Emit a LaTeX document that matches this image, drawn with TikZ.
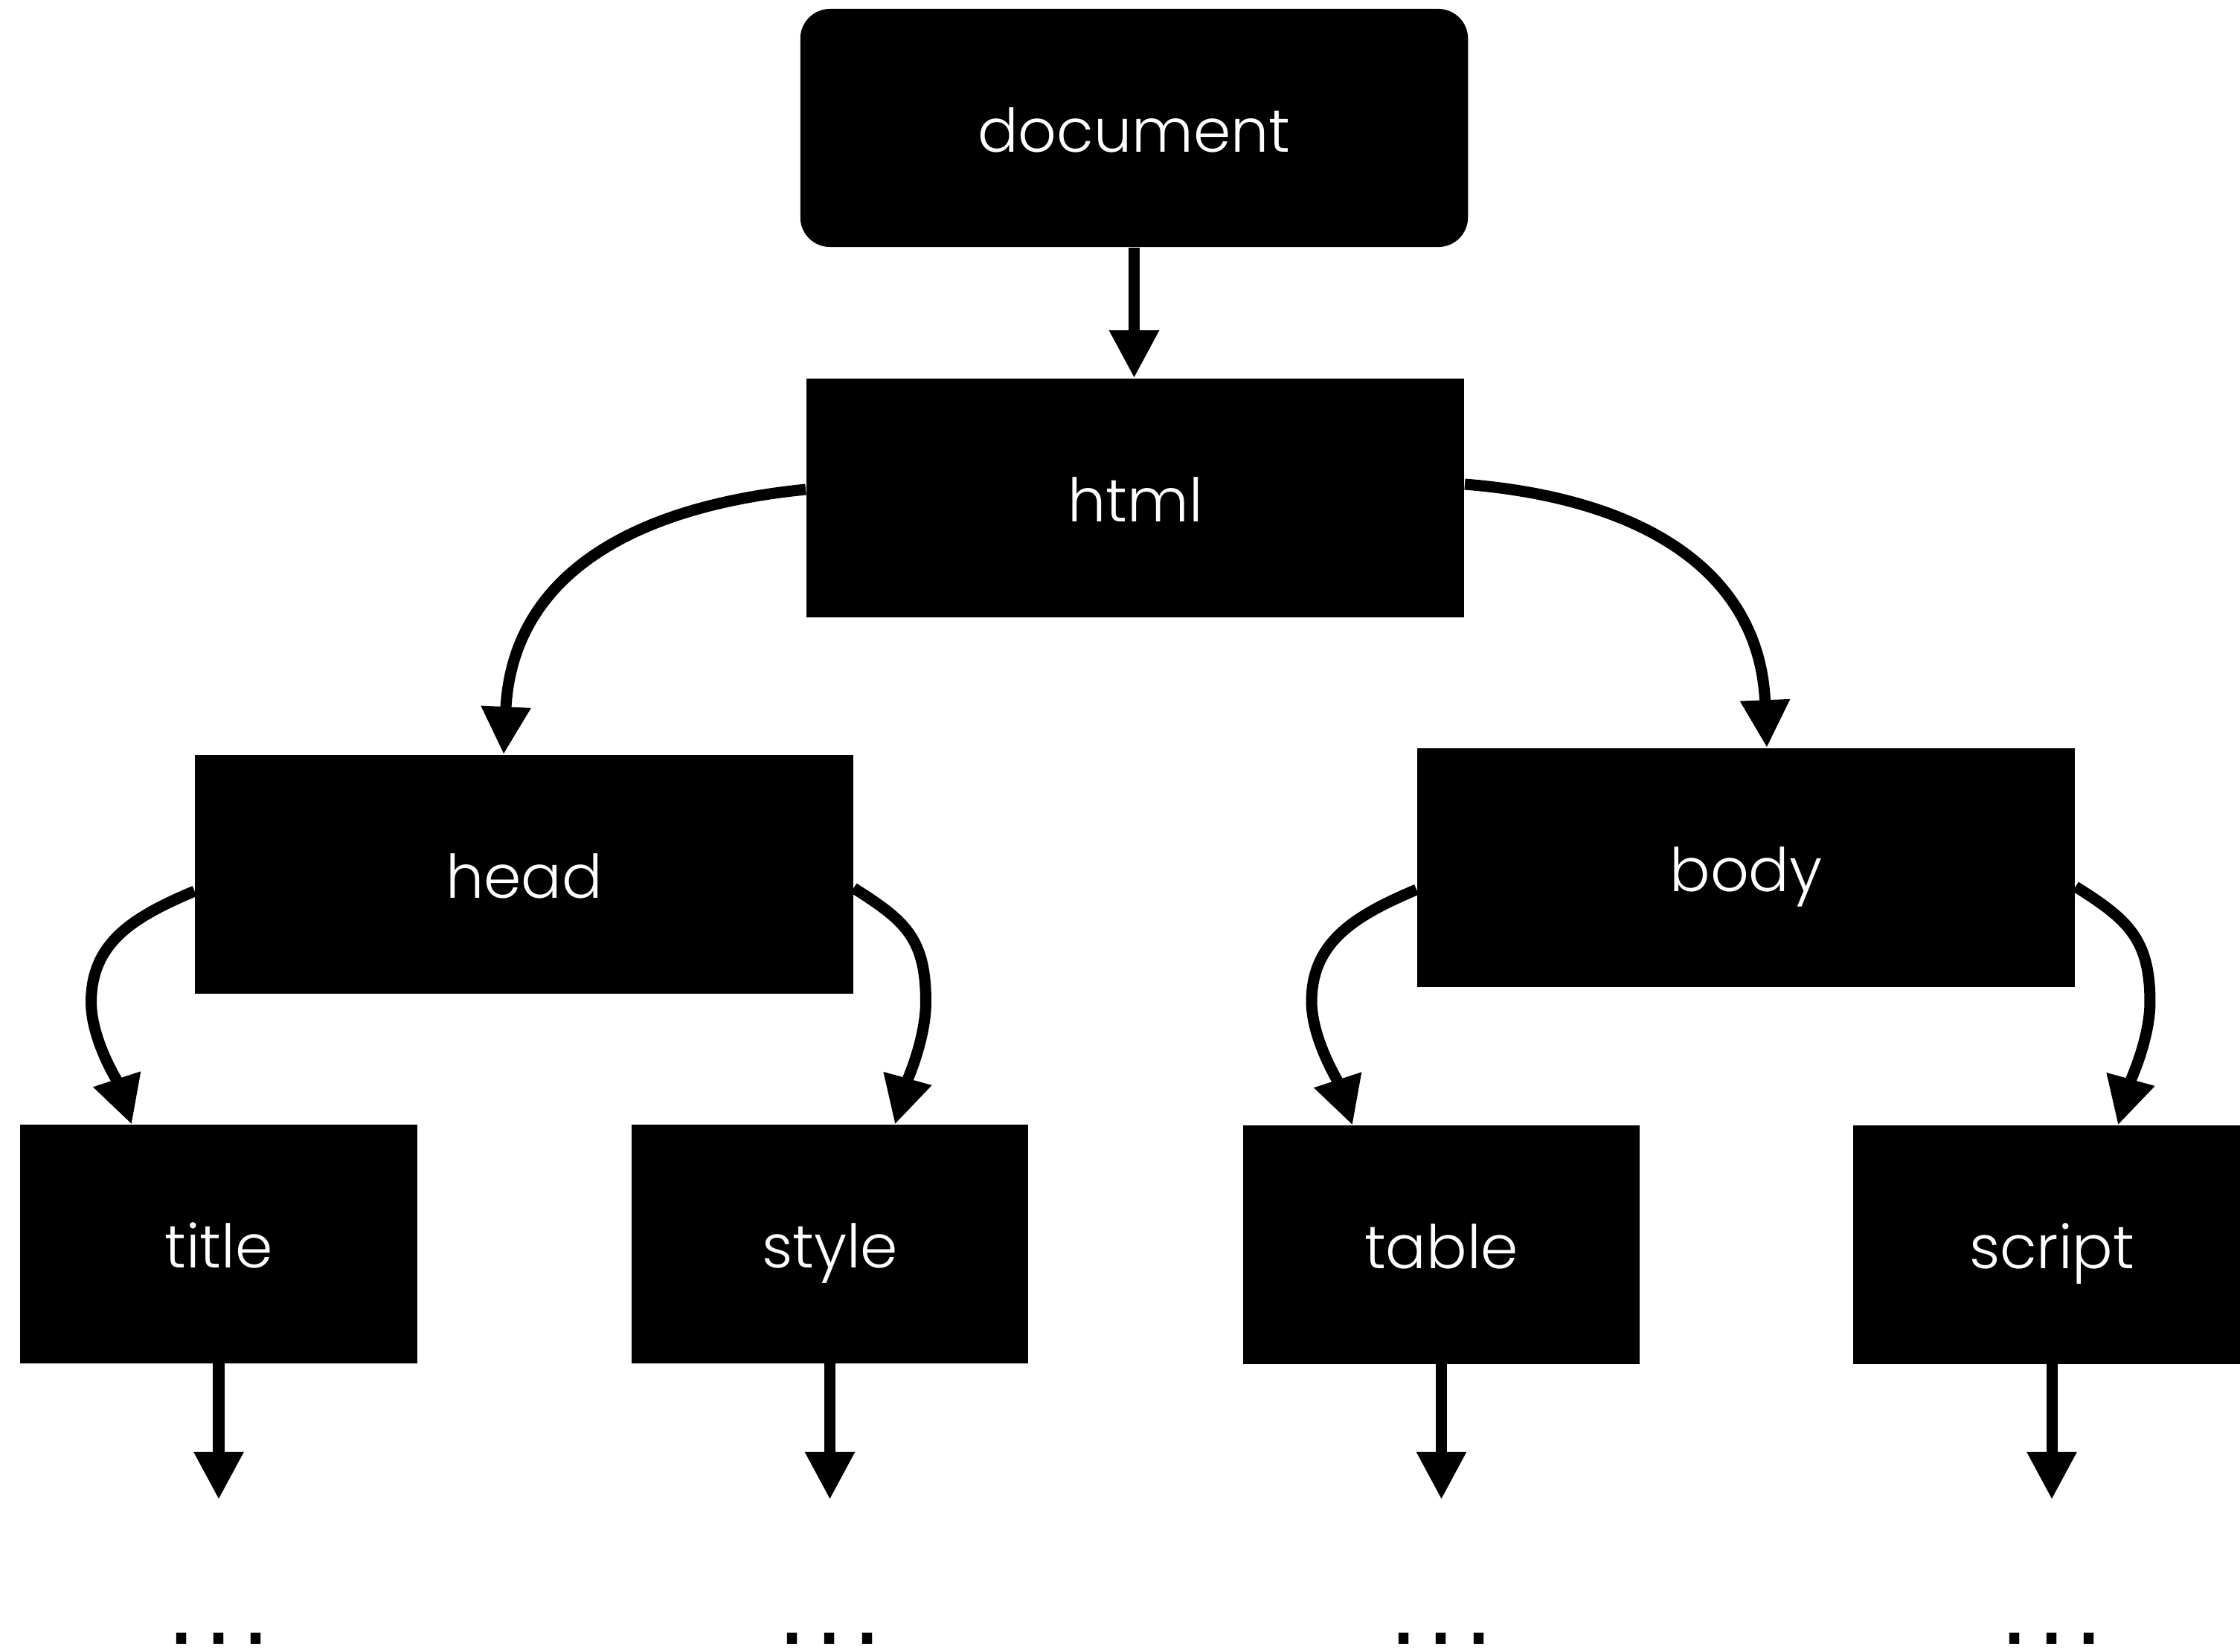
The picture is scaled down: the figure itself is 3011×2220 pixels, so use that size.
\documentclass[tikz,border=0pt]{standalone}
\usepackage{fontspec}
\newfontfamily\lblfont{Poppins}[UprightFont={* Light}]
\newfontfamily\dotfont{Liberation Sans}
\usetikzlibrary{arrows.meta,calc}
\begin{document}
\begin{tikzpicture}[x=0.01cm,y=-0.01cm,
  box/.style={fill=black, draw=none, inner sep=0pt, text=white,
    font=\lblfont\fontsize{23pt}{23pt}\selectfont,
    text height=0.64cm, text depth=0pt, align=center},
  bigbox/.style={box, minimum width=8.84cm, minimum height=3.21cm},
  leaf/.style={box, minimum width=5.33cm, minimum height=3.2cm},
  conn/.style={line width=0.15cm, -{Triangle[length=0.64cm,width=0.63cm]}},
  dots/.style={font=\dotfont\fontsize{40pt}{40pt}\selectfont, anchor=base, inner sep=0pt}
]
\clip (0,0) rectangle (3011,2220);
\fill[white] (0,0) rectangle (3011,2220);

% nodes
\node[box, minimum width=8.97cm, minimum height=3.2cm, rounded corners=0.4cm] (doc) at (1524.5,172) {document};
\node[bigbox] (html) at (1526,669.5) {html};
\node[bigbox] (head) at (704.5,1175.5) {head};
\node[bigbox] (body) at (2347,1166.5) {body};
\node[leaf] (title) at (294,1672.5) {title};
\node[leaf] (style) at (1115.5,1672.5) {style};
\node[leaf] (table) at (1937.5,1673.5) {table};
\node[leaf] (script) at (2758,1673.5) {script};

% ellipses
\node[dots] (d1) at (294,2210) {.\kern0.11cm.\kern0.11cm.};
\node[dots] (d2) at (1115.5,2210) {.\kern0.11cm.\kern0.11cm.};
\node[dots] (d3) at (1937.5,2210) {.\kern0.11cm.\kern0.11cm.};
\node[dots] (d4) at (2758,2210) {.\kern0.11cm.\kern0.11cm.};

\coordinate (e1) at (294,2016);
\coordinate (e2) at (1115.5,2016);
\coordinate (e3) at (1937.5,2016);
\coordinate (e4) at (2758,2016);

% bend points of the lower curved connectors
\coordinate (m1) at ($(head.west)+(-139,172)$);
\coordinate (m2) at ($(head.east)+(97,171.5)$);
\coordinate (m3) at ($(body.west)+(-141,180)$);
\coordinate (m4) at ($(body.east)+(100,180.5)$);

% connectors
\draw[conn] (doc.south) -- (doc.south |- html.north);

\draw[conn] ($(html.west)+(0,-11.5)$) .. controls +(-250,25) and +(11,-230) .. ($(head.north)+(-27.5,0)$);
\draw[conn] ($(html.east)+(0,-18.5)$) .. controls +(250,20) and +(-9,-230) .. ($(body.north)+(28,0)$);

\draw[conn] ($(head.west)+(0,22.5)$) .. controls +(-83,35) and +(0,-80) .. (m1)
  .. controls +(0,50) and +(-18.6,-57) .. ($(title.north)+(-117,0)$);
\draw[conn] ($(head.east)+(0,18.5)$) .. controls +(70,44) and +(0,-85) .. (m2)
  .. controls +(0,50) and +(16,-58) .. ($(style.north)+(87.5,0)$);
\draw[conn] ($(body.west)+(0,29.5)$) .. controls +(-83,35) and +(0,-80) .. (m3)
  .. controls +(0,50) and +(-18.6,-57) .. ($(table.north)+(-119.5,0)$);
\draw[conn] ($(body.east)+(0,25.5)$) .. controls +(70,44) and +(0,-85) .. (m4)
  .. controls +(0,50) and +(16,-58) .. ($(script.north)+(89,0)$);

\draw[conn] (title.south) -- (e1);
\draw[conn] (style.south) -- (e2);
\draw[conn] (table.south) -- (e3);
\draw[conn] (script.south) -- (e4);
\end{tikzpicture}
\end{document}
